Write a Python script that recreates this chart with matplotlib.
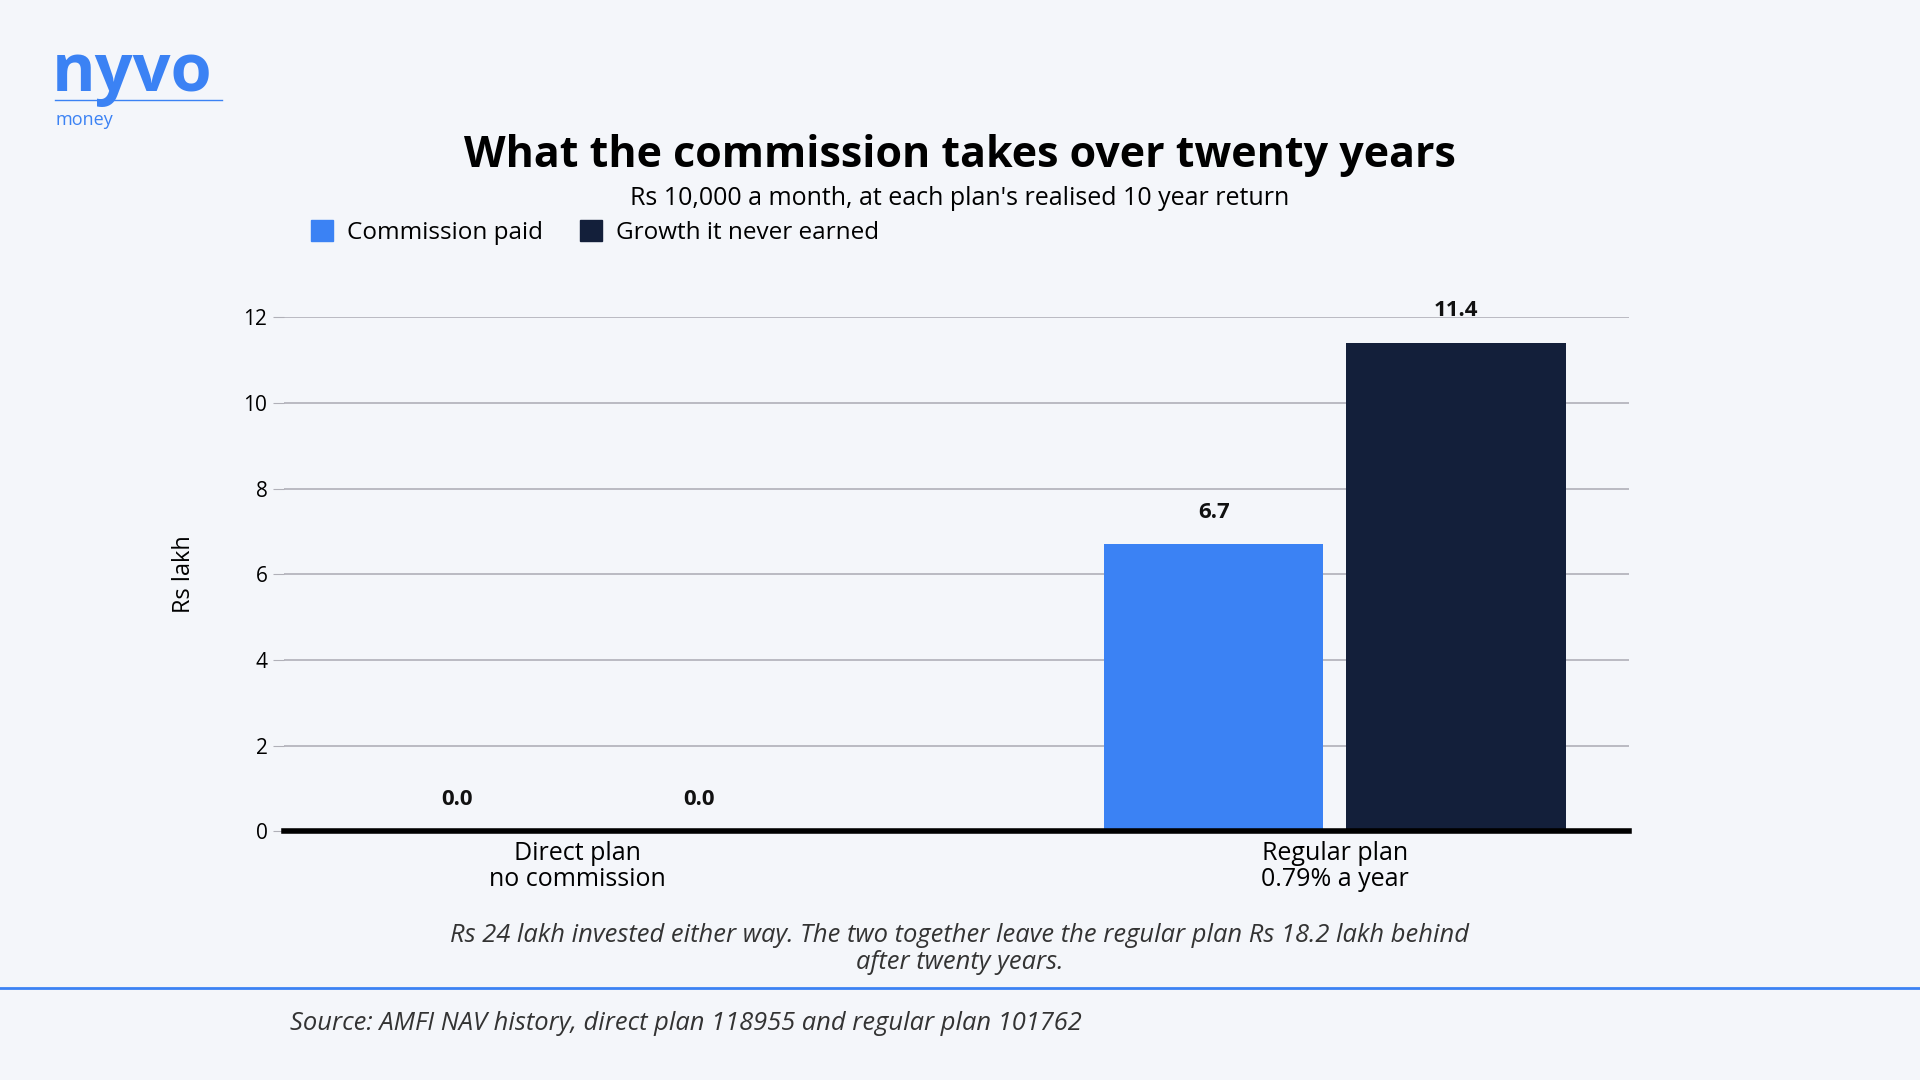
import numpy as np
import matplotlib
matplotlib.use("Agg")
from matplotlib import pyplot as plt
from matplotlib.patches import Patch

plt.rcParams['font.family'] = ['Open Sans', 'DejaVu Sans']

groups = ["Direct plan\nno commission", "Regular plan\n0.79% a year"]
series = ["Commission paid", "Growth it never earned"]
commission = [0.0, 6.7]
growth = [0.0, 11.4]
yticks = [0, 2, 4, 6, 8, 10, 12]

BG = "#f4f6fa"
BLUE = "#3b82f4"
DARK = "#131f3a"
W = 1568.0
H = 882.0

fig = plt.figure(figsize=(19.2, 10.8), dpi=100, facecolor=BG)
ax = fig.add_axes([232 / W, 1 - 679 / H, (1330 - 232) / W, (679 - 259) / H])
ax.set_facecolor(BG)

x = np.arange(len(groups))
bw = 0.29
off = 0.16
for vals, o, c in [(commission, -off, BLUE), (growth, off, DARK)]:
    bars = ax.bar(x + o, vals, bw, color=c, zorder=3)
    for b, v in zip(bars, vals):
        ax.text(b.get_x() + b.get_width() / 2, v + 0.5, f"{v:.1f}", ha="center", va="bottom",
                fontsize=16, fontweight="bold", color="#111111", clip_on=False)

ax.set_xlim(-0.388, 1.388)
ax.set_ylim(0, 12)
ax.set_yticks(yticks)
ax.set_xticks(x)
ax.set_xticklabels(groups, fontsize=18, linespacing=1.05)
ax.tick_params(axis="y", length=8, color="#b0b0b8", labelsize=15, pad=4)
ax.tick_params(axis="x", length=0, pad=7)
ax.grid(axis="y", color="#b0b0b8", linewidth=1.2, zorder=0)
for s in ["top", "right", "left"]:
    ax.spines[s].set_visible(False)
ax.spines["bottom"].set_linewidth(4)
ax.spines["bottom"].set_color("black")
ax.spines["bottom"].set_zorder(4)
ax.set_ylabel("Rs lakh", fontsize=17, labelpad=34)

fig.text(784 / W, 1 - 127 / H, "What the commission takes over twenty years", ha="center", va="center",
         fontsize=31, fontweight="bold")
fig.text(784 / W, 1 - 162 / H, "Rs 10,000 a month, at each plan's realised 10 year return", ha="center",
         va="center", fontsize=18)
handles = [Patch(color=BLUE), Patch(color=DARK)]
fig.legend(handles, series, loc="center left", bbox_to_anchor=(236 / W, 1 - 190 / H), ncol=2, frameon=False,
           fontsize=17.5, handlelength=0.9, handleheight=0.9, columnspacing=1.5, handletextpad=0.6)

fig.text(784 / W, 1 - 775 / H, "Rs 24 lakh invested either way. The two together leave the regular plan Rs 18.2 lakh behind\nafter twenty years.",
         ha="center", va="center", fontsize=18.4, style="italic", color="#333333", linespacing=1.1)
fig.add_artist(plt.Line2D([0, 1], [1 - 807 / H] * 2, color="#3b82f4", linewidth=2))
fig.text(237 / W, 1 - 836 / H, "Source: AMFI NAV history, direct plan 118955 and regular plan 101762",
         ha="left", va="center", fontsize=18.4, style="italic", color="#333333")

# logo
fig.text(42 / W, 1 - 60 / H, "nyvo", ha="left", va="center", fontsize=48, fontweight="bold", color=BLUE)
fig.add_artist(plt.Line2D([45 / W, 181 / W], [1 - 82 / H] * 2, color=BLUE, linewidth=1))
fig.text(45 / W, 1 - 98 / H, "money", ha="left", va="center", fontsize=13, color=BLUE)

fig.savefig("out.png", facecolor=BG)
